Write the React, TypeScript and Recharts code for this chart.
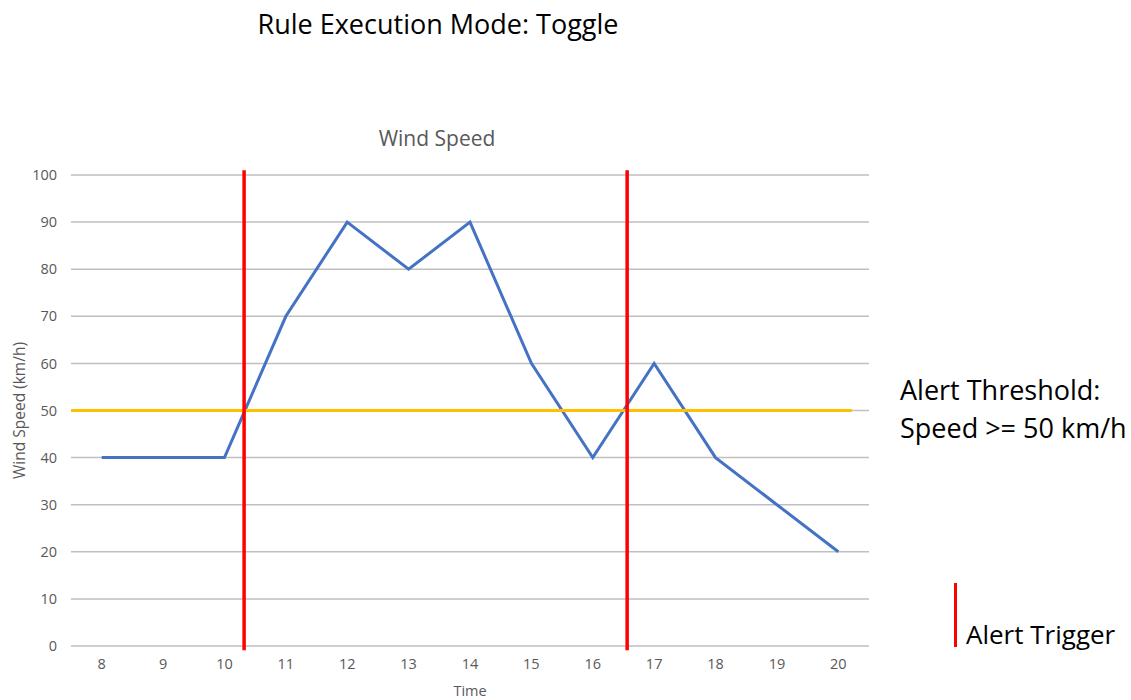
import React from "react";
import {
  LineChart,
  Line,
  XAxis,
  YAxis,
  CartesianGrid,
  ReferenceLine,
} from "recharts";

const hours = [8, 9, 10, 11, 12, 13, 14, 15, 16, 17, 18, 19, 20];
const windSpeed = [40, 40, 40, 70, 90, 80, 90, 60, 40, 60, 40, 30, 20];
const yTicks = [0, 10, 20, 30, 40, 50, 60, 70, 80, 90, 100];
const alertTriggers = [10.32, 16.56];
const threshold = 50;

const data = hours.map((h, i) => ({ hour: h, speed: windSpeed[i] }));

const FONT = "'Open Sans', 'Noto Sans', sans-serif";
const GRAY = "#595959";

export default function App() {
  return (
    <div
      style={{
        position: "absolute",
        left: 0,
        top: 0,
        width: 1131,
        height: 700,
        background: "#fff",
        fontFamily: FONT,
      }}
    >
      <div
        style={{
          position: "absolute",
          left: 0,
          width: 876,
          top: 5,
          textAlign: "center",
          fontSize: 27,
          color: "#000",
        }}
      >
        Rule Execution Mode: Toggle
      </div>
      <div
        style={{
          position: "absolute",
          left: 0,
          width: 874,
          top: 124,
          textAlign: "center",
          fontSize: 21,
          color: GRAY,
        }}
      >
        Wind Speed
      </div>

      <LineChart
        width={1131}
        height={700}
        data={data}
        margin={{ top: 175, right: 262, bottom: 0, left: 0 }}
      >
        <CartesianGrid stroke="#bfbfbf" strokeWidth={1.5} vertical={false} />
        <XAxis
          dataKey="hour"
          type="number"
          domain={[7.5, 20.5]}
          ticks={hours}
          axisLine={false}
          tickLine={false}
          tickMargin={7}
          height={54}
          tick={{ fontSize: 14.5, fill: GRAY, fontFamily: FONT }}
          label={{
            value: "Time",
            position: "insideBottom",
            offset: 4,
            fontSize: 14.5,
            fill: GRAY,
            fontFamily: FONT,
          }}
        />
        <YAxis
          domain={[0, 100]}
          ticks={yTicks}
          width={71}
          axisLine={false}
          tickLine={false}
          tickMargin={8}
          tick={{ fontSize: 14.5, fill: GRAY, fontFamily: FONT }}
          label={{
            value: "Wind Speed (km/h)",
            angle: -90,
            position: "insideLeft",
            offset: 19,
            style: { textAnchor: "middle" },
            fontSize: 15.5,
            fill: GRAY,
            fontFamily: FONT,
          }}
        />
        <Line
          dataKey="speed"
          type="linear"
          stroke="#4472C4"
          strokeWidth={3}
          dot={false}
          activeDot={false}
          isAnimationActive={false}
        />
        <ReferenceLine
          segment={[
            { x: 7.5, y: threshold },
            { x: 20.22, y: threshold },
          ]}
          stroke="#FFC000"
          strokeWidth={3}
          ifOverflow="visible"
        />
        {alertTriggers.map((t) => (
          <ReferenceLine
            key={t}
            segment={[
              { x: t, y: -0.9 },
              { x: t, y: 101 },
            ]}
            stroke="#FF0000"
            strokeWidth={3.5}
            ifOverflow="visible"
          />
        ))}
      </LineChart>

      <div
        style={{
          position: "absolute",
          left: 900,
          top: 371,
          fontSize: 27,
          lineHeight: "38px",
          color: "#000",
          whiteSpace: "nowrap",
        }}
      >
        Alert Threshold:
        <br />
        Speed &gt;= 50 km/h
      </div>
      <div
        style={{
          position: "absolute",
          left: 954,
          top: 583,
          width: 3,
          height: 64,
          background: "#FF0000",
        }}
      />
      <div
        style={{
          position: "absolute",
          left: 966,
          top: 616,
          fontSize: 26,
          color: "#000",
          whiteSpace: "nowrap",
        }}
      >
        Alert Trigger
      </div>
    </div>
  );
}
